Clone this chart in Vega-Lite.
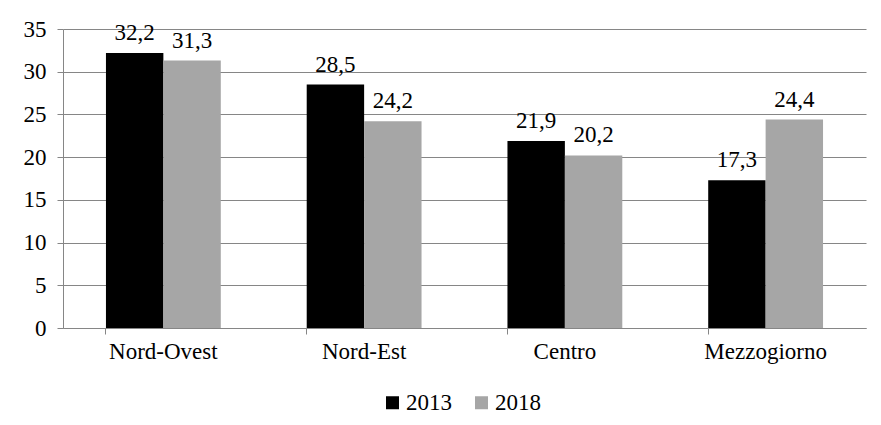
{
  "$schema": "https://vega.github.io/schema/vega-lite/v6.json",
  "autosize": {"type": "none"},
  "padding": {"left": 63, "top": 29, "right": 15, "bottom": 97},
  "width": 803,
  "height": 299,
  "background": "white",
  "config": {
    "locale": {"number": {"decimal": ",", "thousands": ".", "grouping": [3], "currency": ["", " €"]}},
    "font": "Liberation Serif",
    "view": {"stroke": null}
  },
  "data": {
    "values": [
      {"area": "Nord-Ovest", "anno": "2013", "valore": 32.2},
      {"area": "Nord-Ovest", "anno": "2018", "valore": 31.3},
      {"area": "Nord-Est", "anno": "2013", "valore": 28.5},
      {"area": "Nord-Est", "anno": "2018", "valore": 24.2},
      {"area": "Centro", "anno": "2013", "valore": 21.9},
      {"area": "Centro", "anno": "2018", "valore": 20.2},
      {"area": "Mezzogiorno", "anno": "2013", "valore": 17.3},
      {"area": "Mezzogiorno", "anno": "2018", "valore": 24.4}
    ]
  },
  "encoding": {
    "x": {
      "field": "area",
      "type": "nominal",
      "sort": ["Nord-Ovest", "Nord-Est", "Centro", "Mezzogiorno"],
      "scale": {"paddingInner": 0.428, "paddingOuter": 0.214},
      "axis": {
        "title": null,
        "labelAngle": 0,
        "labelFont": "Liberation Serif",
        "labelFontSize": 23,
        "labelColor": "#000000",
        "labelPadding": 6,
        "domainColor": "#868686",
        "tickColor": "#868686",
        "tickSize": 6,
        "bandPosition": 0,
        "grid": false
      }
    },
    "xOffset": {"field": "anno", "type": "nominal", "scale": {"paddingInner": 0, "paddingOuter": 0}},
    "y": {
      "field": "valore",
      "type": "quantitative",
      "scale": {"domain": [0, 35], "nice": false},
      "axis": {
        "title": null,
        "values": [0, 5, 10, 15, 20, 25, 30, 35],
        "format": "d",
        "labelFont": "Liberation Serif",
        "labelFontSize": 23,
        "labelColor": "#000000",
        "labelPadding": 11,
        "domainColor": "#868686",
        "tickColor": "#868686",
        "tickSize": 6,
        "gridColor": "#868686",
        "gridWidth": 1.2
      }
    }
  },
  "layer": [
    {
      "mark": {"type": "bar"},
      "encoding": {
        "color": {
          "field": "anno",
          "type": "nominal",
          "scale": {"domain": ["2013", "2018"], "range": ["#000000", "#a6a6a6"]},
          "legend": {
            "title": null,
            "orient": "none",
            "legendX": 318,
            "legendY": 362,
            "direction": "horizontal",
            "symbolType": "square",
            "symbolSize": 169,
            "symbolStrokeWidth": 0,
            "labelFont": "Liberation Serif",
            "labelFontSize": 23,
            "labelColor": "#000000",
            "labelOffset": 2,
            "columnPadding": 18
          }
        }
      }
    },
    {
      "mark": {"type": "text", "baseline": "alphabetic", "dy": -13, "font": "Liberation Serif", "fontSize": 23, "color": "#000000"},
      "encoding": {
        "text": {"field": "valore", "type": "quantitative", "format": ".1f"}
      }
    }
  ]
}
